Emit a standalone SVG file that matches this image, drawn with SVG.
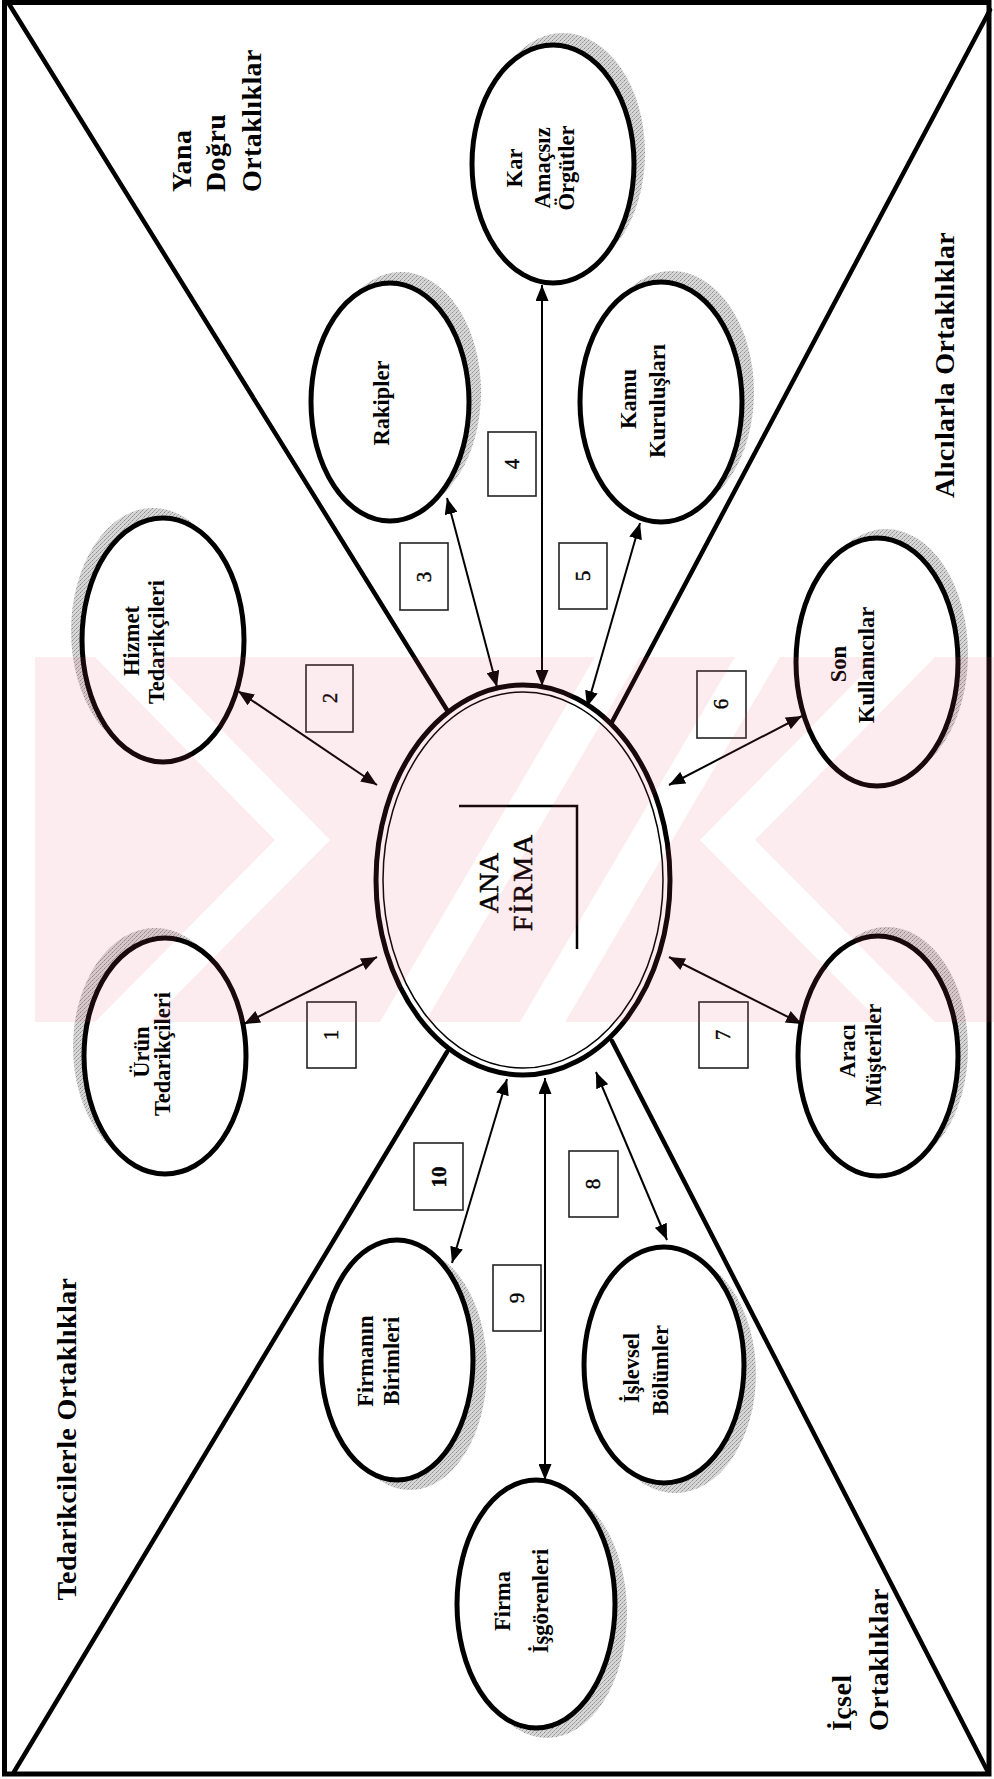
<svg xmlns="http://www.w3.org/2000/svg" width="994" height="1779" viewBox="0 0 994 1779">
<style>
.frame{fill:none;stroke:#000;stroke-width:5}
.div{fill:none;stroke:#000;stroke-width:4.5;stroke-linecap:round}
.sh{fill:url(#stip)}
.nd{fill:#fff;stroke:#000;stroke-width:5}
.lbl{font-family:"Liberation Serif","Times New Roman",serif;font-weight:bold;font-size:22.5px;text-anchor:middle;fill:#000}
.reg{font-family:"Liberation Serif","Times New Roman",serif;font-weight:bold;font-size:28px;fill:#000;letter-spacing:0.4px}
.main{font-family:"Liberation Serif","Times New Roman",serif;font-size:28px;text-anchor:middle;fill:#000;stroke:#000;stroke-width:0.5}
.con{stroke:#000;stroke-width:2;fill:none;marker-start:url(#ah);marker-end:url(#ah)}
.box{fill:none;stroke:#222;stroke-width:1.6}
.num{font-family:"Liberation Serif","Times New Roman",serif;font-size:21px;text-anchor:middle;fill:#000;stroke:#000;stroke-width:0.4}
</style>
<defs>
<pattern id="stip" width="4" height="4" patternUnits="userSpaceOnUse">
<rect width="4" height="4" fill="#d6d6d6"/>
<rect x="0" y="0" width="1" height="1" fill="#8c8c8c"/>
<rect x="2" y="2" width="1" height="1" fill="#9a9a9a"/>
<rect x="3" y="1" width="1" height="1" fill="#b0b0b0"/>
<rect x="1" y="3" width="1" height="1" fill="#a8a8a8"/>
</pattern>
<marker id="ah" viewBox="0 0 16 13" refX="16" refY="6.5" markerWidth="16" markerHeight="13" markerUnits="userSpaceOnUse" orient="auto-start-reverse">
<path d="M0,0 L16,6.5 L0,13 z" fill="#000"/>
</marker>
<mask id="wm">
<rect x="35" y="657" width="959" height="365" fill="#fff"/>
<polygon points="95,657 150,657 330,840 150,1022 95,1022 275,840" fill="#000"/>
<polygon points="935,657 880,657 700,840 880,1022 935,1022 755,840" fill="#000"/>
<polygon points="380,1022 425,1022 640,657 595,657" fill="#000"/>
<polygon points="520,1022 565,1022 780,657 735,657" fill="#000"/>
</mask>
</defs>
<rect width="994" height="1779" fill="#fff"/>
<rect class="frame" x="4.5" y="2.5" width="984.5" height="1771.5"/>
<g id="dividers">
<line class="div" x1="9" y1="4" x2="447" y2="710"/>
<line class="div" x1="990" y1="10" x2="612" y2="722"/>
<line class="div" x1="14" y1="1772" x2="447" y2="1052"/>
<line class="div" x1="988" y1="1772" x2="612" y2="1041"/>
</g>
<g id="region-labels">
<g id="lbl-yana">
<text class="reg" transform="translate(191,192) rotate(-90)">Yana</text>
<text class="reg" transform="translate(225,192) rotate(-90)">Doğru</text>
<text class="reg" transform="translate(261,192) rotate(-90)">Ortaklıklar</text>
</g>
<text id="lbl-alici" class="reg" text-anchor="middle" transform="translate(954,365) rotate(-90)">Alıcılarla Ortaklıklar</text>
<text id="lbl-tedarik" class="reg" text-anchor="middle" transform="translate(76,1439) rotate(-90)">Tedarikcilerle Ortaklıklar</text>
<g id="lbl-icsel">
<text class="reg" transform="translate(851,1731) rotate(-90)">İçsel</text>
<text class="reg" transform="translate(888,1731) rotate(-90)">Ortaklıklar</text>
</g>
</g>
<g id="connectors">
<line class="con" x1="244" y1="1024" x2="377" y2="957"/>
<line class="con" x1="238" y1="691" x2="377" y2="785"/>
<line class="con" x1="447" y1="498" x2="497" y2="687"/>
<line class="con" x1="542" y1="285" x2="542" y2="686"/>
<line class="con" x1="640" y1="523" x2="587" y2="707"/>
<line class="con" x1="802" y1="716" x2="669" y2="785"/>
<line class="con" x1="802" y1="1024" x2="669" y2="957"/>
<line class="con" x1="596" y1="1072" x2="667" y2="1240"/>
<line class="con" x1="545" y1="1078" x2="545" y2="1480"/>
<line class="con" x1="507" y1="1079" x2="452" y2="1263"/>
</g>
<g id="connector-labels">
<rect class="box" x="307" y="1002" width="49" height="66"/><text class="num" transform="translate(338,1035) rotate(-90)">1</text>
<rect class="box" x="306" y="665" width="47" height="67"/><text class="num" transform="translate(337,698) rotate(-90)">2</text>
<rect class="box" x="400" y="543" width="48" height="67"/><text class="num" transform="translate(431,577) rotate(-90)">3</text>
<rect class="box" x="488" y="432" width="48" height="64"/><text class="num" transform="translate(519,464) rotate(-90)">4</text>
<rect class="box" x="559" y="543" width="48" height="66"/><text class="num" transform="translate(590,576) rotate(-90)">5</text>
<rect class="box" x="697" y="671" width="49" height="67"/><text class="num" transform="translate(728,704) rotate(-90)">6</text>
<rect class="box" x="699" y="1002" width="49" height="66"/><text class="num" transform="translate(730,1035) rotate(-90)">7</text>
<rect class="box" x="569" y="1151" width="49" height="66"/><text class="num" transform="translate(600,1184) rotate(-90)">8</text>
<rect class="box" x="493" y="1265" width="48" height="66"/><text class="num" transform="translate(524,1298) rotate(-90)">9</text>
<rect class="box" x="414" y="1143" width="49" height="67"/><text class="num" font-weight="bold" transform="translate(446,1177) rotate(-90)">10</text>
</g>
<g id="n-ana">
<ellipse cx="523" cy="880" rx="147" ry="195" fill="none" stroke="#000" stroke-width="5"/>
<ellipse cx="523" cy="880" rx="140" ry="188" fill="none" stroke="#000" stroke-width="1.5"/>
<path d="M459,806 H577 V949" fill="none" stroke="#000" stroke-width="2.5"/>
<text class="main" transform="translate(498,883) rotate(-90)">ANA</text>
<text class="main" letter-spacing="2" transform="translate(532,882) rotate(-90)">FİRMA</text>
</g>
<g id="n-kar">
<ellipse class="sh" cx="563" cy="153" rx="82" ry="120"/>
<ellipse class="nd" cx="553" cy="164" rx="81" ry="119"/>
<text class="lbl" transform="translate(522,168) rotate(-90)">Kar</text>
<text class="lbl" transform="translate(550,168) rotate(-90)">Amaçsız</text>
<text class="lbl" transform="translate(574,168) rotate(-90)">Örgütler</text>
</g>
<g id="n-rakipler">
<ellipse class="sh" cx="401" cy="392" rx="80" ry="120"/>
<ellipse class="nd" cx="390" cy="402" rx="79" ry="119"/>
<text class="lbl" transform="translate(389,403) rotate(-90)">Rakipler</text>
</g>
<g id="n-kamu">
<ellipse class="sh" cx="672" cy="392" rx="82" ry="121"/>
<ellipse class="nd" cx="661" cy="402" rx="81" ry="120"/>
<text class="lbl" transform="translate(636,399) rotate(-90)">Kamu</text>
<text class="lbl" transform="translate(665,401) rotate(-90)">Kuruluşları</text>
</g>
<g id="n-hizmet">
<ellipse class="sh" cx="153" cy="631" rx="82" ry="123"/>
<ellipse class="nd" cx="163" cy="640" rx="81" ry="122"/>
<text class="lbl" transform="translate(139,641) rotate(-90)">Hizmet</text>
<text class="lbl" transform="translate(164,642) rotate(-90)">Tedarikçileri</text>
</g>
<g id="n-son">
<ellipse class="sh" cx="886" cy="654" rx="82" ry="125"/>
<ellipse class="nd" cx="877" cy="662" rx="81" ry="124"/>
<text class="lbl" transform="translate(846,664) rotate(-90)">Son</text>
<text class="lbl" transform="translate(874,665) rotate(-90)">Kullanıcılar</text>
</g>
<g id="n-urun">
<ellipse class="sh" cx="155" cy="1047" rx="82" ry="119"/>
<ellipse class="nd" cx="165" cy="1056" rx="81" ry="118"/>
<text class="lbl" transform="translate(149,1052) rotate(-90)">Ürün</text>
<text class="lbl" transform="translate(170,1054) rotate(-90)">Tedarikçileri</text>
</g>
<g id="n-araci">
<ellipse class="sh" cx="887" cy="1048" rx="81" ry="121"/>
<ellipse class="nd" cx="878" cy="1056" rx="80" ry="120"/>
<text class="lbl" transform="translate(855,1051) rotate(-90)">Aracı</text>
<text class="lbl" transform="translate(881,1055) rotate(-90)">Müşteriler</text>
</g>
<g id="n-firmanin">
<ellipse class="sh" cx="410" cy="1369" rx="77" ry="121"/>
<ellipse class="nd" cx="397" cy="1360" rx="76" ry="120"/>
<text class="lbl" transform="translate(373,1361) rotate(-90)">Firmanın</text>
<text class="lbl" transform="translate(399,1361) rotate(-90)">Birimleri</text>
</g>
<g id="n-islevsel">
<ellipse class="sh" cx="675" cy="1374" rx="81" ry="119"/>
<ellipse class="nd" cx="664" cy="1365" rx="80" ry="118"/>
<text class="lbl" transform="translate(639,1368) rotate(-90)">İşlevsel</text>
<text class="lbl" transform="translate(668,1370) rotate(-90)">Bölümler</text>
</g>
<g id="n-isgoren">
<ellipse class="sh" cx="547" cy="1613" rx="80" ry="125"/>
<ellipse class="nd" cx="536" cy="1604" rx="79" ry="124"/>
<text class="lbl" transform="translate(510,1601) rotate(-90)">Firma</text>
<text class="lbl" transform="translate(548,1601) rotate(-90)">İşgörenleri</text>
</g>
<rect id="watermark" x="35" y="657" width="959" height="365" fill="#e8506e" fill-opacity="0.11" mask="url(#wm)"/>
</svg>
